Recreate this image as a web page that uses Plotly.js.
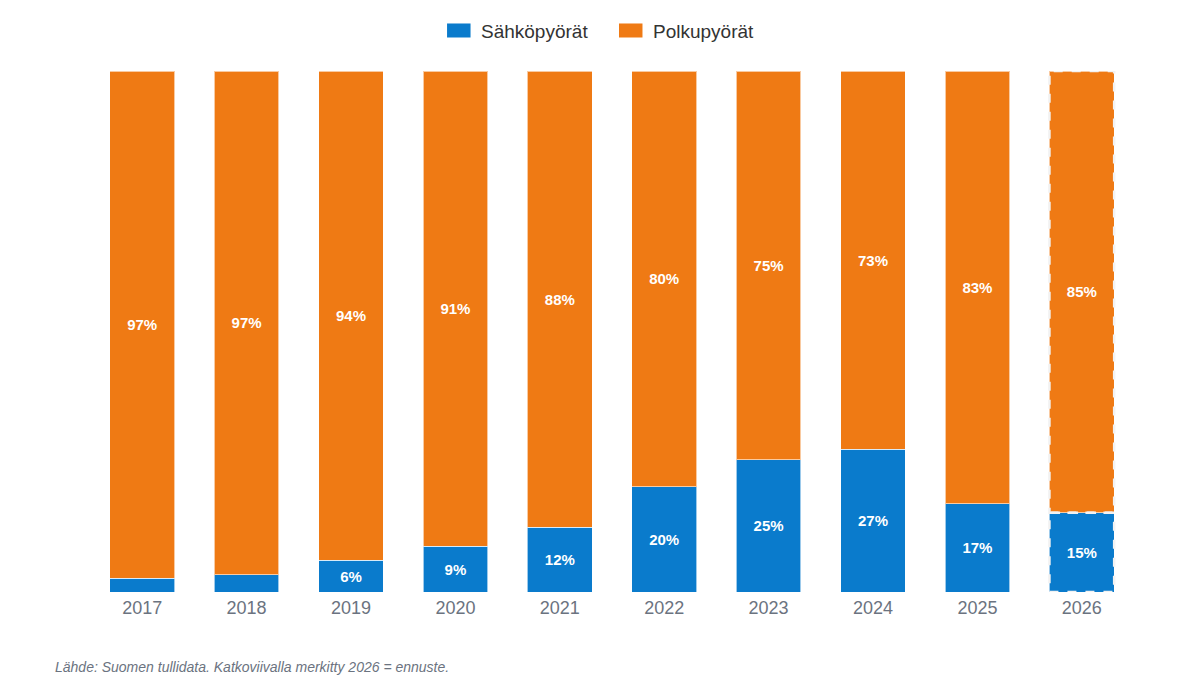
<!DOCTYPE html>
<html>
<head>
<meta charset="utf-8">
<script src="https://cdn.plot.ly/plotly-3.0.1.min.js"></script>
<style>
  html, body { margin: 0; padding: 0; background: #fff; }
  #chart { width: 1200px; height: 689px; }
</style>
</head>
<body>
<div id="chart"></div>
<script>
// Years on the x axis
const years = ['2017', '2018', '2019', '2020', '2021', '2022', '2023', '2024', '2025', '2026'];

// Share of imports, percent
const ebikeShare = [2.6, 3.3, 6.1, 8.8, 12.4, 20.2, 25.4, 27.4, 16.9, 15.2];
const bikeShare = [97.4, 96.7, 93.9, 91.2, 87.6, 79.8, 74.6, 72.6, 83.1, 84.8];

const seriesNames = ['Sähköpyörät', 'Polkupyörät'];
const seriesColors = ['#0a7bcc', '#ef7a14'];

const forecastYear = '2026';
const barWidth = 0.62;

// labels only where the segment is tall enough
function labels(values) {
    return values.map(v => v < 5 ? '' : Math.round(v) + '%');
}

const textFont = { family: 'Liberation Sans, Arial, sans-serif', size: 15, color: '#ffffff', weight: 'bold' };

const traces = [ebikeShare, bikeShare].map((vals, i) => ({
    x: years,
    y: vals,
    name: seriesNames[i],
    type: 'bar',
    width: barWidth,
    marker: { color: seriesColors[i], line: { color: 'rgba(255,255,255,0.6)', width: 1 } },
    text: labels(vals),
    textposition: 'inside',
    insidetextanchor: 'middle',
    textfont: textFont,
    hoverinfo: 'x+y+name'
}));

// dashed outline for the forecast bar
const fi = years.indexOf(forecastYear);
const dashLine = { color: '#f2f2f2', width: 2.5, dash: 'dash' };
const shapes = [
    {
        type: 'rect', xref: 'x', yref: 'y',
        x0: fi - barWidth / 2, x1: fi + barWidth / 2,
        y0: 0, y1: ebikeShare[fi],
        line: dashLine
    },
    {
        type: 'rect', xref: 'x', yref: 'y',
        x0: fi - barWidth / 2, x1: fi + barWidth / 2,
        y0: ebikeShare[fi], y1: ebikeShare[fi] + bikeShare[fi],
        line: dashLine
    }
];

// legend drawn by hand: wide swatches like the original
const legendSwatchX = [0.342, 0.5067];
const annotations = [];
legendSwatchX.forEach((x0, i) => {
    shapes.push({
        type: 'rect', xref: 'paper', yref: 'paper',
        x0: x0, x1: x0 + 0.0225, y0: 1.0643, y1: 1.0912,
        fillcolor: seriesColors[i], line: { width: 0 }
    });
    annotations.push({
        text: seriesNames[i],
        xref: 'paper', yref: 'paper',
        x: x0 + 0.0305, y: 1.0765,
        xanchor: 'left', yanchor: 'middle',
        showarrow: false,
        font: { size: 19, color: '#333' }
    });
});

annotations.push({
    text: 'Lähde: Suomen tullidata. Katkoviivalla merkitty 2026 = ennuste.',
    xref: 'paper', yref: 'paper',
    x: -0.035, y: -0.124,
    xanchor: 'left', yanchor: 'top',
    showarrow: false,
    font: { size: 14, color: '#6b7380', style: 'italic' }
});

const layout = {
    width: 1200,
    height: 689,
    barmode: 'stack',
    paper_bgcolor: '#ffffff',
    plot_bgcolor: '#ffffff',
    margin: { l: 90, r: 66, t: 71, b: 97 },
    font: { family: 'Liberation Sans, Arial, sans-serif', color: '#444' },
    showlegend: false,
    xaxis: {
        type: 'category',
        showgrid: false,
        zeroline: false,
        showline: false,
        ticks: '',
        ticklabelstandoff: 3,
        tickfont: { size: 18, color: '#6b7380' },
        fixedrange: true
    },
    yaxis: {
        range: [0, 100],
        visible: false,
        showgrid: false,
        zeroline: false,
        fixedrange: true
    },
    shapes: shapes,
    annotations: annotations
};

Plotly.newPlot('chart', traces, layout, { displayModeBar: false, responsive: false });
</script>
</body>
</html>
